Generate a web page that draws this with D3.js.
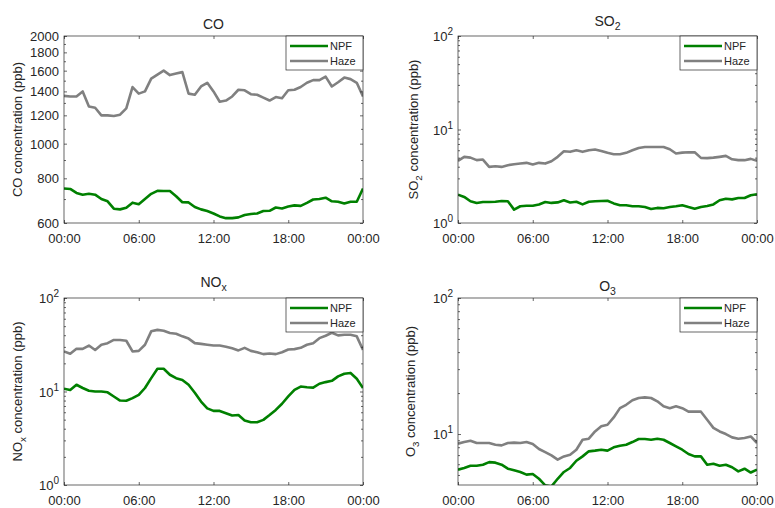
<!DOCTYPE html>
<html>
<head>
<meta charset="utf-8">
<script src="https://cdn.jsdelivr.net/npm/d3@7"></script>
<style>
body { margin: 0; background: #fff; }
text { font-family: "Liberation Sans", Arial, sans-serif; fill: #262626; }
</style>
</head>
<body>
<script>
// half-hourly diurnal means, 00:00 .. 24:00
var hours = [0, 0.5, 1, 1.5, 2, 2.5, 3, 3.5, 4, 4.5, 5, 5.5, 6, 6.5, 7, 7.5, 8, 8.5, 9, 9.5,
	10, 10.5, 11, 11.5, 12, 12.5, 13, 13.5, 14, 14.5, 15, 15.5, 16, 16.5, 17, 17.5, 18, 18.5, 19, 19.5,
	20, 20.5, 21, 21.5, 22, 22.5, 23, 23.5, 24];
var timeTicks = [0, 6, 12, 18, 24];
var timeLabels = ["00:00", "06:00", "12:00", "18:00", "00:00"];
var seriesNames = ["NPF", "Haze"];

var coNPF = [749, 747, 728, 720, 724, 720, 700, 690, 658, 655, 662, 684, 677, 700, 724, 738, 737, 737, 713, 686,
	685, 665, 655, 648, 638, 626, 619, 619, 622, 632, 636, 638, 648, 649, 663, 659, 667, 672, 670, 683,
	698, 700, 706, 690, 688, 680, 688, 688, 749];
var coHaze = [1360, 1355, 1355, 1400, 1270, 1260, 1200, 1200, 1195, 1205, 1255, 1440, 1380, 1400, 1520, 1560, 1600, 1555, 1570, 1585,
	1380, 1370, 1445, 1480, 1400, 1310, 1320, 1355, 1415, 1410, 1375, 1370, 1345, 1320, 1350, 1340, 1410, 1415, 1440, 1480,
	1505, 1505, 1540, 1445, 1485, 1530, 1515, 1480, 1355];

var so2NPF = [2.01, 1.9, 1.71, 1.64, 1.68, 1.68, 1.69, 1.72, 1.71, 1.39, 1.51, 1.53, 1.53, 1.58, 1.68, 1.64, 1.66, 1.75, 1.66, 1.69,
	1.58, 1.69, 1.71, 1.72, 1.73, 1.62, 1.55, 1.55, 1.51, 1.51, 1.48, 1.41, 1.45, 1.44, 1.48, 1.51, 1.55, 1.48, 1.42, 1.48,
	1.52, 1.58, 1.75, 1.82, 1.79, 1.85, 1.85, 1.98, 2.03];
var so2Haze = [4.62, 5.1, 5.0, 4.7, 4.77, 3.98, 4.05, 3.98, 4.15, 4.25, 4.32, 4.4, 4.22, 4.4, 4.32, 4.58, 5.1, 5.85, 5.77, 6.0,
	5.77, 6.0, 6.1, 5.9, 5.63, 5.44, 5.44, 5.63, 6.0, 6.35, 6.5, 6.5, 6.5, 6.5, 6.15, 5.53, 5.66, 5.7, 5.7, 4.97,
	4.94, 5.0, 5.1, 5.22, 4.8, 4.7, 4.7, 4.85, 4.62];

var noxNPF = [10.7, 10.4, 11.8, 10.9, 10.2, 10, 10, 9.8, 8.85, 8.0, 7.95, 8.5, 9.2, 10.9, 13.9, 17.5, 17.5, 15.1, 13.9, 13.3,
	11.8, 9.7, 7.8, 6.6, 6.2, 6.2, 5.86, 5.53, 5.6, 4.9, 4.69, 4.69, 4.97, 5.6, 6.35, 7.4, 8.85, 10.4, 11.3, 11.1,
	11.0, 12.1, 12.6, 13.0, 14.5, 15.5, 15.8, 13.7, 10.9];
var noxHaze = [26.8, 25.3, 28.6, 28.6, 31, 27.8, 31.6, 32.9, 35.6, 35.6, 34.9, 26.8, 27.2, 31.6, 44, 45.6, 44.6, 42.2, 41.5, 38.9,
	36.8, 32.9, 32.3, 31.6, 31, 31, 30.1, 29, 27.5, 29.3, 27.2, 26.3, 25.1, 25.5, 25.1, 26.3, 28.1, 28.4, 29.3, 31.6,
	32.9, 37.2, 39.5, 42.5, 39.8, 40.5, 40.5, 38.9, 27.9];

var o3NPF = [5.47, 5.63, 5.85, 5.85, 5.95, 6.22, 6.16, 5.95, 5.56, 5.41, 5.26, 5.03, 5.08, 4.69, 4.2, 4.12, 4.69, 5.26, 5.63, 6.36,
	6.85, 7.46, 7.55, 7.67, 7.55, 7.98, 8.21, 8.35, 8.73, 9.19, 9.19, 9.08, 9.24, 9.08, 8.59, 8.11, 7.67, 7.13, 6.85, 6.85,
	5.95, 6.05, 5.85, 5.95, 5.7, 5.31, 5.56, 5.21, 5.47];
var o3Haze = [8.49, 8.73, 8.93, 8.59, 8.59, 8.59, 8.35, 8.25, 8.59, 8.64, 8.59, 8.73, 8.44, 7.76, 7.37, 6.97, 6.48, 6.85, 7.05, 7.67,
	9.08, 9.24, 10.45, 11.4, 11.7, 13.25, 15.5, 16.4, 17.7, 18.4, 18.6, 18.4, 17.4, 16.0, 15.5, 16.0, 15.5, 14.6, 14.6, 14.6,
	12.75, 11.1, 10.45, 10.0, 9.45, 9.24, 9.35, 9.6, 8.59];

var coTicks = [600, 800, 1000, 1200, 1400, 1600, 1800, 2000];
var coMinor = [700, 900, 1100, 1300, 1500, 1700, 1900];
var decadeTicks = [1, 10, 100];
var decadeMinor = [2, 3, 4, 5, 6, 7, 8, 9, 20, 30, 40, 50, 60, 70, 80, 90];

var colors = ["#008000", "#808080"];

var W = 775, H = 508;
var svg = d3.select("body").append("svg")
	.attr("width", W)
	.attr("height", H);

// text with sub (1) / super (-1) script parts
function rich(t, parts, size) {
	var off = 0;
	parts.forEach(function (p) {
		var target = p[1] * 4;
		t.append("tspan")
			.attr("dy", target - off)
			.style("font-size", p[1] ? (size * 0.75) + "px" : null)
			.text(p[0]);
		off = target;
	});
}

var panels = [
	{ left: 64, top: 36, title: [["CO", 0]], label: [["CO concentration (ppb)", 0]], labelX: 42, titleDy: 7,
		domain: [600, 2000], ticks: coTicks, minor: coMinor, pow: false, npf: coNPF, haze: coHaze },
	{ left: 458, top: 36, title: [["SO", 0], ["2", 1]], label: [["SO", 0], ["2", 1], [" concentration (ppb)", 0]], labelX: 40, titleDy: 10,
		domain: [1, 100], ticks: decadeTicks, minor: decadeMinor, pow: true, npf: so2NPF, haze: so2Haze },
	{ left: 64, top: 298, title: [["NO", 0], ["x", 1]], label: [["NO", 0], ["x", 1], [" concentration (ppb)", 0]], labelX: 42, titleDy: 11,
		domain: [1, 100], ticks: decadeTicks, minor: decadeMinor, pow: true, npf: noxNPF, haze: noxHaze },
	{ left: 458, top: 298, title: [["O", 0], ["3", 1]], label: [["O", 0], ["3", 1], [" concentration (ppb)", 0]], labelX: 43, titleDy: 7,
		domain: [4.22, 100], ticks: [10, 100], minor: [5, 6, 7, 8, 9, 20, 30, 40, 50, 60, 70, 80, 90], pow: true, npf: o3NPF, haze: o3Haze }
];

var pw = 299, ph = 187;

panels.forEach(function (p, pi) {
	var g = svg.append("g").attr("transform", "translate(" + p.left + "," + p.top + ")");
	var x = d3.scaleLinear().domain([0, 24]).range([0, pw]);
	var y = d3.scaleLog().domain(p.domain).range([ph, 0]);

	g.append("clipPath").attr("id", "clip" + pi)
		.append("rect").attr("width", pw).attr("height", ph);

	var line = d3.line()
		.x(function (d, i) { return x(hours[i]); })
		.y(function (d) { return y(d); });

	[p.haze, p.npf].forEach(function (s, k) {
		g.append("path")
			.attr("d", line(s))
			.attr("clip-path", "url(#clip" + pi + ")")
			.attr("fill", "none")
			.attr("stroke", k == 0 ? colors[1] : colors[0])
			.attr("stroke-width", 2.6)
			.attr("stroke-linejoin", "round");
	});

	// inward ticks on all four sides
	var bottom = d3.axisBottom(x).tickValues(timeTicks).tickSizeInner(-3).tickSizeOuter(0)
		.tickFormat(function (d, i) { return timeLabels[i]; });
	var top = d3.axisTop(x).tickValues(timeTicks).tickSizeInner(-3).tickSizeOuter(0).tickFormat("");
	var leftAx = d3.axisLeft(y).tickValues(p.ticks).tickSizeInner(-3).tickSizeOuter(0).tickFormat("");
	var rightAx = d3.axisRight(y).tickValues(p.ticks).tickSizeInner(-3).tickSizeOuter(0).tickFormat("");
	var leftMin = d3.axisLeft(y).tickValues(p.minor).tickSizeInner(-2).tickSizeOuter(0).tickFormat("");
	var rightMin = d3.axisRight(y).tickValues(p.minor).tickSizeInner(-2).tickSizeOuter(0).tickFormat("");

	var gb = g.append("g").attr("transform", "translate(0," + ph + ")").call(bottom);
	gb.selectAll("text").attr("dy", null).attr("y", 20)
		.style("font-size", "13px").attr("fill", "#262626");
	g.append("g").call(top);
	g.append("g").call(leftAx);
	g.append("g").call(leftMin);
	g.append("g").attr("transform", "translate(" + pw + ",0)").call(rightAx);
	g.append("g").attr("transform", "translate(" + pw + ",0)").call(rightMin);
	g.selectAll(".domain").remove();
	g.selectAll(".tick line").attr("stroke", "#262626").attr("stroke-width", 0.7);

	// y tick labels
	p.ticks.forEach(function (v) {
		var t = g.append("text")
			.attr("x", -5)
			.attr("y", y(v) + 5)
			.attr("text-anchor", "end")
			.style("font-size", "13px");
		if (p.pow) {
			t.append("tspan").text("10");
			t.append("tspan").attr("dy", -6).style("font-size", "10px").text(Math.round(Math.log10(v)));
		} else {
			t.text(v);
		}
	});

	g.append("rect")
		.attr("width", pw).attr("height", ph)
		.attr("fill", "none")
		.attr("stroke", "#262626")
		.attr("stroke-width", 0.7);

	// title
	var tt = g.append("text")
		.attr("x", pw / 2)
		.attr("y", -p.titleDy)
		.attr("text-anchor", "middle")
		.style("font-size", "14px");
	rich(tt, p.title, 14);

	// y label
	var yl = g.append("text")
		.attr("transform", "translate(" + (-p.labelX) + "," + (ph / 2) + ")rotate(-90)")
		.attr("text-anchor", "middle")
		.style("font-size", "13px");
	rich(yl, p.label, 13);

	// legend
	var lg = g.append("g").attr("transform", "translate(" + (pw - 77) + ",0)");
	lg.append("rect")
		.attr("width", 77).attr("height", 34)
		.attr("fill", "#fff")
		.attr("stroke", "#262626")
		.attr("stroke-width", 0.7);
	seriesNames.forEach(function (name, i) {
		var ly = 10 + i * 15;
		lg.append("line")
			.attr("x1", 4).attr("x2", 42)
			.attr("y1", ly).attr("y2", ly)
			.attr("stroke", colors[i])
			.attr("stroke-width", 2.6);
		lg.append("text")
			.attr("x", 44)
			.attr("y", ly + 4)
			.style("font-size", "11px")
			.text(name);
	});
});
</script>
</body>
</html>
